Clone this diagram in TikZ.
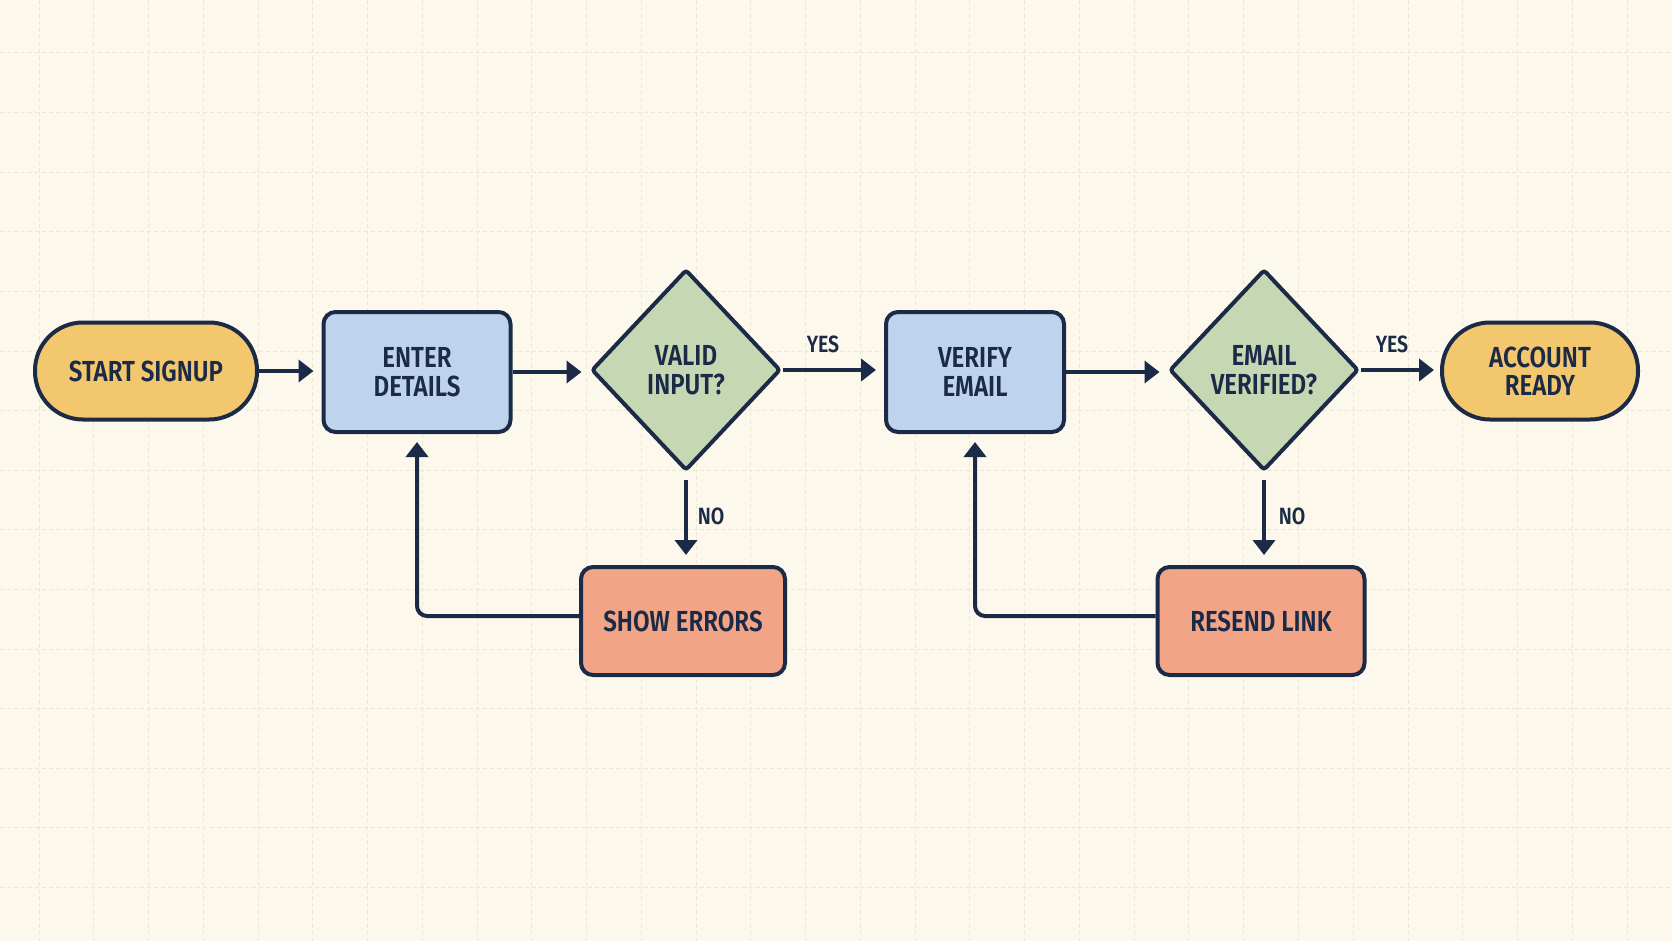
\documentclass[tikz,border=0pt]{standalone}
\usepackage{fontspec}
\newfontfamily\lblfont{Fira Sans SemiBold}[FakeStretch=0.83]
\usetikzlibrary{shapes.geometric,arrows.meta,calc}
\definecolor{bgc}{HTML}{FDF8EC}
\definecolor{gridc}{HTML}{EEE6D5}
\definecolor{ink}{HTML}{1B2B47}
\definecolor{yel}{HTML}{F2C76E}
\definecolor{blu}{HTML}{BED3EE}
\definecolor{grn}{HTML}{C6D8B3}
\definecolor{sal}{HTML}{F2A487}
\tikzset{
  base/.style={draw=ink, line width=4pt, text=ink, align=center, inner sep=0pt,
    font={\lblfont\fontsize{29pt}{28.5pt}\selectfont}},
  term/.style={base, fill=yel, rounded corners=48pt, minimum height=97pt},
  proc/.style={base, fill=blu, rounded corners=12pt, minimum height=120pt},
  errbox/.style={base, fill=sal, rounded corners=12pt, minimum height=108pt},
  dec/.style={base, fill=grn, shape=diamond, minimum width=189pt, minimum height=201pt, rounded corners=3pt},
  flow/.style={draw=ink, line width=4pt, -{Triangle[length=15pt,width=22pt]}, shorten >=8pt},
  lab/.style={text=ink, inner sep=0pt, font={\lblfont\fontsize{23.5pt}{25pt}\selectfont}},
  gridline/.style={draw=gridc, line width=1pt, dash pattern=on 4pt off 3pt}
}
\begin{document}
\begin{tikzpicture}[x=1pt,y=-1pt]
\fill[bgc] (0,0) rectangle (1672,941);
\useasboundingbox (0,0) rectangle (1672,941);
\foreach \k in {0,...,29} { \draw[gridline] ({39+54.76*\k},0) -- ({39+54.76*\k},941); }
\foreach \k in {0,...,14} { \draw[gridline] (0,{53+59.6*\k}) -- (1672,{53+59.6*\k}); }

\node[term, minimum width=222pt] (start) at (146,371) {START SIGNUP};
\node[proc, minimum width=187pt] (enter) at (417,372) {ENTER\\DETAILS};
\node[dec] (valid) at (686,370) {VALID\\INPUT?};
\node[proc, minimum width=178pt] (verify) at (975,372) {VERIFY\\EMAIL};
\node[dec] (emailv) at (1264,370) {EMAIL\\VERIFIED?};
\node[term, minimum width=196pt] (ready) at (1540,371) {ACCOUNT\\READY};
\node[errbox, minimum width=204pt] (showerr) at (683,621) {SHOW ERRORS};
\node[errbox, minimum width=207pt] (resend) at (1261,621) {RESEND LINK};

\draw[flow] (start.east) -- (start.east -| enter.west);
\draw[flow] (enter.east) -- (enter.east -| valid.west);
\draw[flow] (valid.east) -- (valid.east -| verify.west);
\draw[flow] (verify.east) -- (verify.east -| emailv.west);
\draw[flow, shorten >=6pt] (emailv.east) -- (emailv.east -| ready.west);

\draw[flow, shorten <=7pt, shorten >=10pt] (valid.south) -- (valid.south |- showerr.north);
\draw[flow, shorten <=7pt, shorten >=10pt] (emailv.south) -- (emailv.south |- resend.north);

\coordinate (se) at ($(showerr.west)+(0,-5)$);
\coordinate (re) at ($(resend.west)+(0,-5)$);
\draw[flow, rounded corners=10pt] (se) -| (enter.south);
\draw[flow, rounded corners=10pt] (re) -| (verify.south);

\node[lab] (yes1) at (823,344) {YES};
\node[lab] (yes2) at (1392,344) {YES};
\node[lab] (no1) at (711,516) {NO};
\node[lab] (no2) at (1292,516) {NO};
\end{tikzpicture}
\end{document}
